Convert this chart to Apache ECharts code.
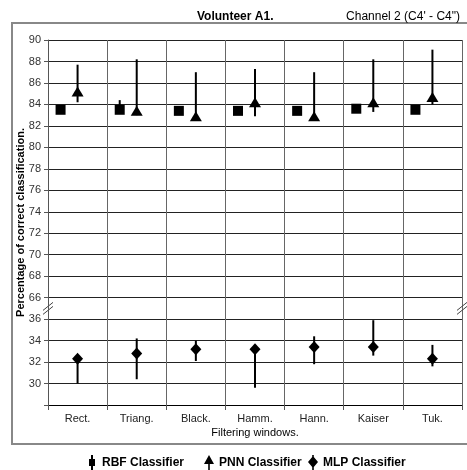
<!DOCTYPE html>
<html>
<head>
<meta charset="utf-8">
<script src="https://cdn.jsdelivr.net/npm/echarts@6/dist/echarts.min.js"></script>
<style>
html,body{margin:0;padding:0;background:#fff;}
#chart{width:467px;height:470px;}
</style>
</head>
<body>
<div id="chart"></div>
<script>
// ---- Data ----
const categories = ['Rect.', 'Triang.', 'Black.', 'Hamm.', 'Hann.', 'Kaiser', 'Tuk.'];
const rbfMean = [83.5, 83.5, 83.4, 83.4, 83.4, 83.6, 83.5];
const rbfLow  = [83.3, 83.3, 83.2, 83.2, 83.2, 83.4, 83.3];
const rbfHigh = [83.7, 84.4, 83.6, 83.6, 83.6, 83.8, 83.7];
const pnnMean = [85.2, 83.4, 82.9, 84.2, 82.9, 84.2, 84.7];
const pnnLow  = [84.2, 83.0, 82.6, 82.9, 82.6, 83.3, 84.0];
const pnnHigh = [87.7, 88.2, 87.0, 87.3, 87.0, 88.2, 89.1];
const mlpMean = [32.3, 32.8, 33.2, 33.2, 33.4, 33.4, 32.3];
const mlpLow  = [30.0, 30.4, 32.1, 29.6, 31.8, 32.6, 31.6];
const mlpHigh = [32.6, 34.2, 34.0, 33.4, 34.4, 35.9, 33.6];
const upperTickLabels = [66, 68, 70, 72, 74, 76, 78, 80, 82, 84, 86, 88, 90];
const lowerTickLabels = [30, 32, 34, 36];
const seriesNames = ['RBF Classifier', 'PNN Classifier', 'MLP Classifier'];

// broken axis: lower segment (28..36) is shifted up to sit just below 66
const SHIFT = 28;
function toAxis(v) { return v < 50 ? v + SHIFT : v; }
function fromAxis(a) { return a <= 64 ? a - SHIFT : a; }

const FONT = '"Liberation Sans", Arial, sans-serif';
const GRID = { left: 48, right: 5, top: 40, bottom: 65 };
const W = 467;

function errData(low, high) {
  return categories.map((c, i) => [i, toAxis(low[i]), toAxis(high[i])]);
}
function ptData(mean) {
  return categories.map((c, i) => [i, toAxis(mean[i])]);
}
function errRender(offset) {
  return function (params, api) {
    const p1 = api.coord([api.value(0), api.value(1)]);
    const p2 = api.coord([api.value(0), api.value(2)]);
    return {
      type: 'line',
      shape: { x1: p1[0] + offset, y1: p1[1], x2: p2[0] + offset, y2: p2[1] },
      style: { stroke: '#000', lineWidth: 2 }
    };
  };
}

const legendIcons = [
  'path://M4,0 L6,0 L6,4 L8,4 L8,11 L6,11 L6,15 L4,15 L4,11 L2,11 L2,4 L4,4 Z',
  'path://M5,0 L10,9 L5.8,9 L5.8,15 L4.2,15 L4.2,9 L0,9 Z',
  'path://M4.2,0 L5.8,0 L5.8,2 L10,7 L5.8,12 L5.8,15 L4.2,15 L4.2,12 L0,7 L4.2,2 Z'
];
const legendLefts = [84, 199, 303];

const chart = echarts.init(document.getElementById('chart'), null, { renderer: 'canvas' });

const option = {
  animation: false,
  backgroundColor: '#fff',
  textStyle: { fontFamily: FONT },
  title: [
    { text: 'Volunteer A1.', left: 192, top: 6,
      textStyle: { fontSize: 12, fontWeight: 'bold', color: '#000', fontFamily: FONT } },
    { text: 'Channel 2 (C4\' - C4")', right: 2, top: 6,
      textStyle: { fontSize: 12, fontWeight: 'normal', color: '#000', fontFamily: FONT } }
  ],
  grid: GRID,
  legend: seriesNames.map((n, i) => ({
    left: legendLefts[i], top: 450,
    itemWidth: 10, itemHeight: 15,
    textStyle: { fontSize: 12, fontWeight: 'bold', color: '#000', fontFamily: FONT },
    data: [{ name: n, icon: legendIcons[i] }],
    itemStyle: { color: '#000', opacity: 1 }
  })),
  xAxis: {
    type: 'category',
    data: categories,
    boundaryGap: true,
    name: 'Filtering windows.',
    nameLocation: 'middle',
    nameGap: 22,
    nameMoveOverlap: false,
    nameTextStyle: { fontSize: 11, color: '#000', fontFamily: FONT },
    axisLine: { lineStyle: { color: '#000', width: 1 } },
    axisTick: { show: true, length: 5, lineStyle: { color: '#555' } },
    axisLabel: { fontSize: 11, color: '#222', margin: 8, fontFamily: FONT },
    splitLine: { show: true, lineStyle: { color: '#666', width: 1 } }
  },
  yAxis: {
    type: 'value',
    min: 56, max: 90, interval: 2,
    name: 'Percentage of correct classification.',
    nameLocation: 'middle',
    nameGap: 22,
    nameMoveOverlap: false,
    nameTextStyle: { fontSize: 11, fontWeight: 'bold', color: '#000', fontFamily: FONT },
    axisLine: { show: true, lineStyle: { color: '#555', width: 1 } },
    axisTick: { show: true, length: 4, lineStyle: { color: '#555' } },
    axisLabel: {
      fontSize: 11, color: '#333', margin: 7, fontFamily: FONT,
      formatter: function (a) {
        const v = fromAxis(a);
        if (a >= 66 && upperTickLabels.indexOf(v) >= 0) return String(v);
        if (a <= 64 && lowerTickLabels.indexOf(v) >= 0) return String(v);
        return '';
      }
    },
    splitLine: { show: true, lineStyle: { color: '#222', width: 1 } }
  },
  series: [
    { name: seriesNames[0] + ' err', type: 'custom', renderItem: errRender(-17),
      data: errData(rbfLow, rbfHigh), encode: { x: 0, y: [1, 2] }, z: 3, silent: true },
    { name: seriesNames[1] + ' err', type: 'custom', renderItem: errRender(0),
      data: errData(pnnLow, pnnHigh), encode: { x: 0, y: [1, 2] }, z: 3, silent: true },
    { name: seriesNames[2] + ' err', type: 'custom', renderItem: errRender(0),
      data: errData(mlpLow, mlpHigh), encode: { x: 0, y: [1, 2] }, z: 3, silent: true },
    { name: seriesNames[0], type: 'scatter', symbol: 'rect', symbolSize: 10,
      symbolOffset: [-17, 0], data: ptData(rbfMean), itemStyle: { color: '#000', opacity: 1 }, z: 5 },
    { name: seriesNames[1], type: 'scatter', symbol: 'triangle', symbolSize: [12, 10],
      data: ptData(pnnMean), itemStyle: { color: '#000', opacity: 1 }, z: 5 },
    { name: seriesNames[2], type: 'scatter', symbol: 'diamond', symbolSize: [11, 12],
      data: ptData(mlpMean), itemStyle: { color: '#000', opacity: 1 }, z: 5 }
  ]
};
chart.setOption(option);

// decorations: outer frame and axis-break marks
function addDecor() {
  const yb = chart.convertToPixel({ yAxisIndex: 0 }, 65);
  const xl = GRID.left;
  const xr = W - GRID.right;
  function slashes(x) {
    return [
      { type: 'line', shape: { x1: x - 5, y1: yb + 2, x2: x + 5, y2: yb - 6 }, style: { stroke: '#444', lineWidth: 1 } },
      { type: 'line', shape: { x1: x - 5, y1: yb + 6, x2: x + 5, y2: yb - 2 }, style: { stroke: '#444', lineWidth: 1 } }
    ];
  }
  chart.setOption({
    graphic: [
      { type: 'rect', shape: { x: 12, y: 23, width: 458, height: 421 },
        style: { fill: 'none', stroke: '#888', lineWidth: 2 }, z: 0, silent: true },
      { type: 'group', children: slashes(xl).concat(slashes(xr)), z: 10 }
    ]
  });
}
addDecor();
</script>
</body>
</html>
